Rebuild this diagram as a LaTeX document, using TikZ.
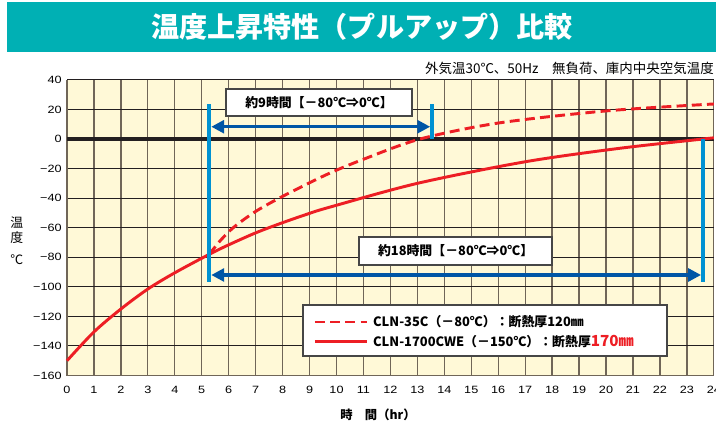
\documentclass[tikz,border=0pt]{standalone}
\usepackage{fontspec}
\setmainfont{Noto Sans CJK JP}
\newfontfamily\numfont[FakeStretch=1.2]{Liberation Sans}
\usetikzlibrary{arrows.meta,positioning}

\definecolor{titleteal}{RGB}{0,176,180}
\definecolor{plotbg}{RGB}{255,249,215}
\definecolor{gridbrown}{RGB}{112,102,88}
\definecolor{gridblack}{RGB}{35,31,32}
\definecolor{curvered}{RGB}{237,30,36}
\definecolor{markblue}{RGB}{0,146,210}
\definecolor{arrowblue}{RGB}{0,86,166}
\definecolor{boxgray}{RGB}{70,70,70}

\tikzset{
  vgrid/.style={line width=1.1pt, gridbrown},
  hgrid/.style={line width=0.9pt, gridblack},
  ylab/.style={anchor=east, inner sep=0pt, font=\numfont\fontsize{9}{9}\selectfont},
  xlab/.style={inner sep=0pt, font=\numfont\fontsize{9}{9}\selectfont},
  curve/.style={line width=2.5pt, curvered},
  dashcurve/.style={curve, dash pattern=on 8.5pt off 4.5pt},
  marker/.style={line width=3.4pt, markblue},
  spanarrow/.style={line width=2.6pt, arrowblue,
    {Triangle[length=11pt,width=11pt]}-{Triangle[length=11pt,width=11pt]}},
  spanbox/.style={draw=boxgray, line width=1.2pt, fill=white, inner sep=0pt,
    font=\bfseries\fontsize{11}{11}\selectfont},
  legtext/.style={anchor=west, inner sep=0pt, font=\bfseries\fontsize{11}{11}\selectfont},
}

\begin{document}
\begin{tikzpicture}[x=0.03cm,y=-0.03cm]
	\useasboundingbox (0,0) rectangle (716,438);
	%title bar
	\fill[titleteal] (7,2) rectangle (716,52);
	\node[white, font=\bfseries\fontsize{24}{24}\selectfont] (title) at (362,27) {温度上昇特性（プルアップ）比較};
	\node[anchor=east, inner sep=0pt, font=\fontsize{11.5}{11.5}\selectfont] (cond) at (714,68) {外気温30℃、50Hz　無負荷、庫内中央空気温度};

	\begin{scope}[shift={(67,139)}, x=0.8085cm, y=0.04434cm]
	%plot area
	\fill[plotbg] (0,-160) rectangle (24,40);
	\foreach \t in {1,...,24} \draw[vgrid] (\t,-160)--(\t,40);
	\foreach \T in {-140,-120,...,40} \draw[hgrid] (0,\T)--(24,\T);
	\draw[line width=1.4pt, gridbrown] (0,40)--(0,-160)--(24,-160);
	\draw[line width=3.2pt, gridblack] (0,0)--(24,0);

	%tick labels
	\foreach \T [count=\i] in {40,20,0} \node[ylab] (ylab\i) at (-0.19,\T) {\T};
	\foreach \T [count=\i] in {20,40,...,160} \node[ylab] (nlab\i) at (-0.19,-\T) {−\T};
	\foreach \t in {0,...,24} \node[xlab] (xlab\t) at (\t,-169.8) {\t};

	%axis titles
	\node[font=\fontsize{11}{11}\selectfont] (yt1) at (-1.86,-56.8) {温};
	\node[font=\fontsize{11}{11}\selectfont] (yt2) at (-1.86,-67) {度};
	\node[font=\fontsize{11}{11}\selectfont] (yt3) at (-1.86,-81.9) {℃};
	\node[font=\bfseries\fontsize{10.5}{10.5}\selectfont] (xt) at (11.54,-186.7) {時　間（hr）};

	%curves
	\draw[curve] plot[smooth] coordinates {(0,-150) (1,-130.5) (2,-115) (3,-101.5) (4,-90.5) (5.28,-78) (6,-71.6) (7,-63.5) (8,-56.6) (9,-50.3) (9.77,-46) (13,-30) (17,-15.4) (20.5,-6.3) (23.6,0) (24,0.8)};
	\draw[dashcurve] plot[smooth] coordinates {(5.28,-78) (5.7,-68.5) (6.2,-59.5) (7,-49) (8,-38.8) (9.64,-24) (11,-13.7) (13.1,0) (16,10.8) (20,19) (24,23.7)};

	%markers
	\coordinate (aTop) at (5.28,23.5);
	\coordinate (aBot) at (5.28,-96.5);
	\coordinate (bTop) at (13.55,23.5);
	\coordinate (bBot) at (13.55,0);
	\coordinate (cTop) at (23.6,0);
	\coordinate (cBot) at (23.6,-96.5);
	\draw[marker] (aTop)--(aBot);
	\draw[marker] (bTop)--(bBot);
	\draw[marker] (cTop)--(cBot);

	\coordinate (nineL) at (5.28,8.3);
	\coordinate (nineR) at (13.55,8.3);
	\coordinate (eightL) at (5.28,-92);
	\coordinate (eightR) at (23.6,-92);
	\draw[spanarrow, shorten <=1.7pt, shorten >=1.7pt] (nineL)--(nineR);
	\draw[spanarrow, shorten <=1.7pt, shorten >=1.7pt] (eightL)--(eightR);

	\node[spanbox, minimum width=5.58cm, minimum height=0.81cm] (nineBox) at (9.35,24.7) {約9時間【－80℃⇒0℃】};
	\node[spanbox, minimum width=5.79cm, minimum height=0.84cm] (eightBox) at (14.42,-75.8) {約18時間【－80℃⇒0℃】};

	%legend
	\node[draw=boxgray, line width=1.2pt, fill=white, minimum width=10.92cm, minimum height=1.53cm] (legend) at (15.51,-129.6) {};
	\coordinate (dashL) at (9.2,-123.8);
	\coordinate (dashR) at (11.13,-123.8);
	\coordinate (solidL) at (9.2,-136.7);
	\coordinate (solidR) at (11.13,-136.7);
	\draw[dashcurve] (dashL)--(dashR);
	\draw[curve] (solidL)--(solidR);
	\node[legtext] (leg35) at (11.35,-123.8) {CLN-35C（－80℃）：断熱厚120㎜};
	\node[legtext] (leg1700) at (11.35,-136.7) {CLN-1700CWE（－150℃）：断熱厚{\color{curvered}\fontsize{13}{13}\selectfont 170㎜}};
	\end{scope}
\end{tikzpicture}
\end{document}
